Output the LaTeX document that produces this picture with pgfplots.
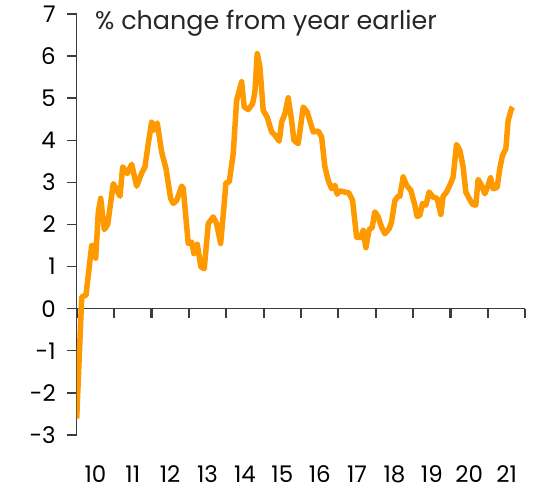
\documentclass[border=0pt]{standalone}
\usepackage{pgfplots}
\pgfplotsset{compat=1.18}
\usepackage{fontspec}
\setmainfont{Poppins}
\definecolor{lineorange}{RGB}{255,153,0}
\definecolor{axisgray}{RGB}{60,60,60}
\begin{document}
\begin{tikzpicture}
\path[use as bounding box] (0,0) rectangle (533bp,496bp);
\pgfplotsset{
  base/.style={scale only axis, width=448.6bp, anchor=south west,
    xmin=0, xmax=12,
    font=\fontsize{23}{27}\selectfont,
    axis line style={axisgray, line width=1.4bp},
    tick align=outside, major tick length=9.5bp}
}
% zero line with year-boundary ticks (axis whose bottom edge sits at y = 0)
\begin{axis}[base, height=294.7bp, at={(76.7bp,187.3bp)}, ymin=0, ymax=7,
  axis x line*=bottom, axis y line=none, ytick=\empty,
  xtick={0,1,2,3,4,5,6,7,8,9,10,11,12}, xticklabels={},
  major x tick style={axisgray, line width=2.2bp}]
\end{axis}
% main axis with data (x = years since start of 2010)
\begin{axis}[base, height=421bp, at={(76.7bp,61bp)}, ymin=-3, ymax=7,
  axis x line*=bottom, axis y line*=left,
  x axis line style={draw=none},
  xtick={0.5,1.5,2.5,3.5,4.5,5.5,6.5,7.5,8.5,9.5,10.5,11.5},
  xticklabels={10,11,12,13,14,15,16,17,18,19,20,21},
  major x tick style={draw=none},
  major y tick style={axisgray, line width=1.4bp},
  xticklabel style={anchor=north, yshift=-18bp},
  ytick={-3,-2,...,7},
  yticklabels={-3,-2,-1,0,1,2,3,4,5,6,7},
  yticklabel style={anchor=east, xshift=-8bp}]
\addplot[lineorange, line width=5.5bp, line join=round] table {
x y
0.000 -2.61
0.134 0.28
0.249 0.32
0.401 1.50
0.463 1.50
0.508 1.20
0.578 2.30
0.642 2.62
0.738 1.88
0.829 2.00
0.979 2.97
1.158 2.67
1.230 3.37
1.353 3.21
1.471 3.43
1.604 2.91
1.738 3.22
1.826 3.37
1.914 3.92
2.005 4.43
2.067 4.24
2.155 4.41
2.273 3.72
2.388 3.33
2.513 2.62
2.583 2.50
2.674 2.57
2.807 2.91
2.850 2.86
2.984 1.55
3.075 1.58
3.136 1.31
3.225 1.53
3.324 0.99
3.412 0.95
3.519 2.02
3.652 2.18
3.743 2.02
3.850 1.55
3.939 2.42
3.992 2.99
4.080 3.01
4.187 3.68
4.278 4.95
4.412 5.39
4.481 4.79
4.588 4.73
4.706 4.87
4.767 5.15
4.829 6.06
4.901 5.74
4.989 4.71
5.096 4.55
5.214 4.20
5.302 4.12
5.417 3.98
5.481 4.43
5.570 4.63
5.658 5.01
5.749 4.47
5.810 4.00
5.925 3.92
6.059 4.79
6.166 4.67
6.326 4.20
6.460 4.22
6.551 4.08
6.639 3.37
6.727 3.05
6.818 2.85
6.906 2.93
6.968 2.72
7.040 2.80
7.174 2.77
7.281 2.75
7.380 2.57
7.487 1.70
7.594 1.69
7.663 1.86
7.735 1.45
7.824 1.88
7.904 1.93
7.976 2.30
8.064 2.18
8.155 1.94
8.243 1.78
8.358 1.90
8.422 2.06
8.511 2.57
8.599 2.67
8.644 2.67
8.733 3.13
8.824 2.93
8.939 2.81
9.045 2.46
9.107 2.19
9.179 2.22
9.251 2.50
9.340 2.46
9.428 2.77
9.535 2.65
9.642 2.62
9.741 2.24
9.802 2.67
9.893 2.77
10.000 2.97
10.070 3.13
10.160 3.90
10.249 3.76
10.337 3.37
10.409 2.77
10.497 2.62
10.588 2.48
10.676 2.46
10.738 3.07
10.829 2.93
10.917 2.73
10.989 2.89
11.070 3.11
11.139 2.85
11.246 2.88
11.318 3.33
11.390 3.64
11.480 3.80
11.540 4.47
11.631 4.75
11.660 4.79
};
\end{axis}
\node[anchor=base west, inner sep=0pt, font=\fontsize{25.5}{30}\selectfont, text=black!85] at (95bp,466bp) {\% change from year earlier};
\end{tikzpicture}
\end{document}
